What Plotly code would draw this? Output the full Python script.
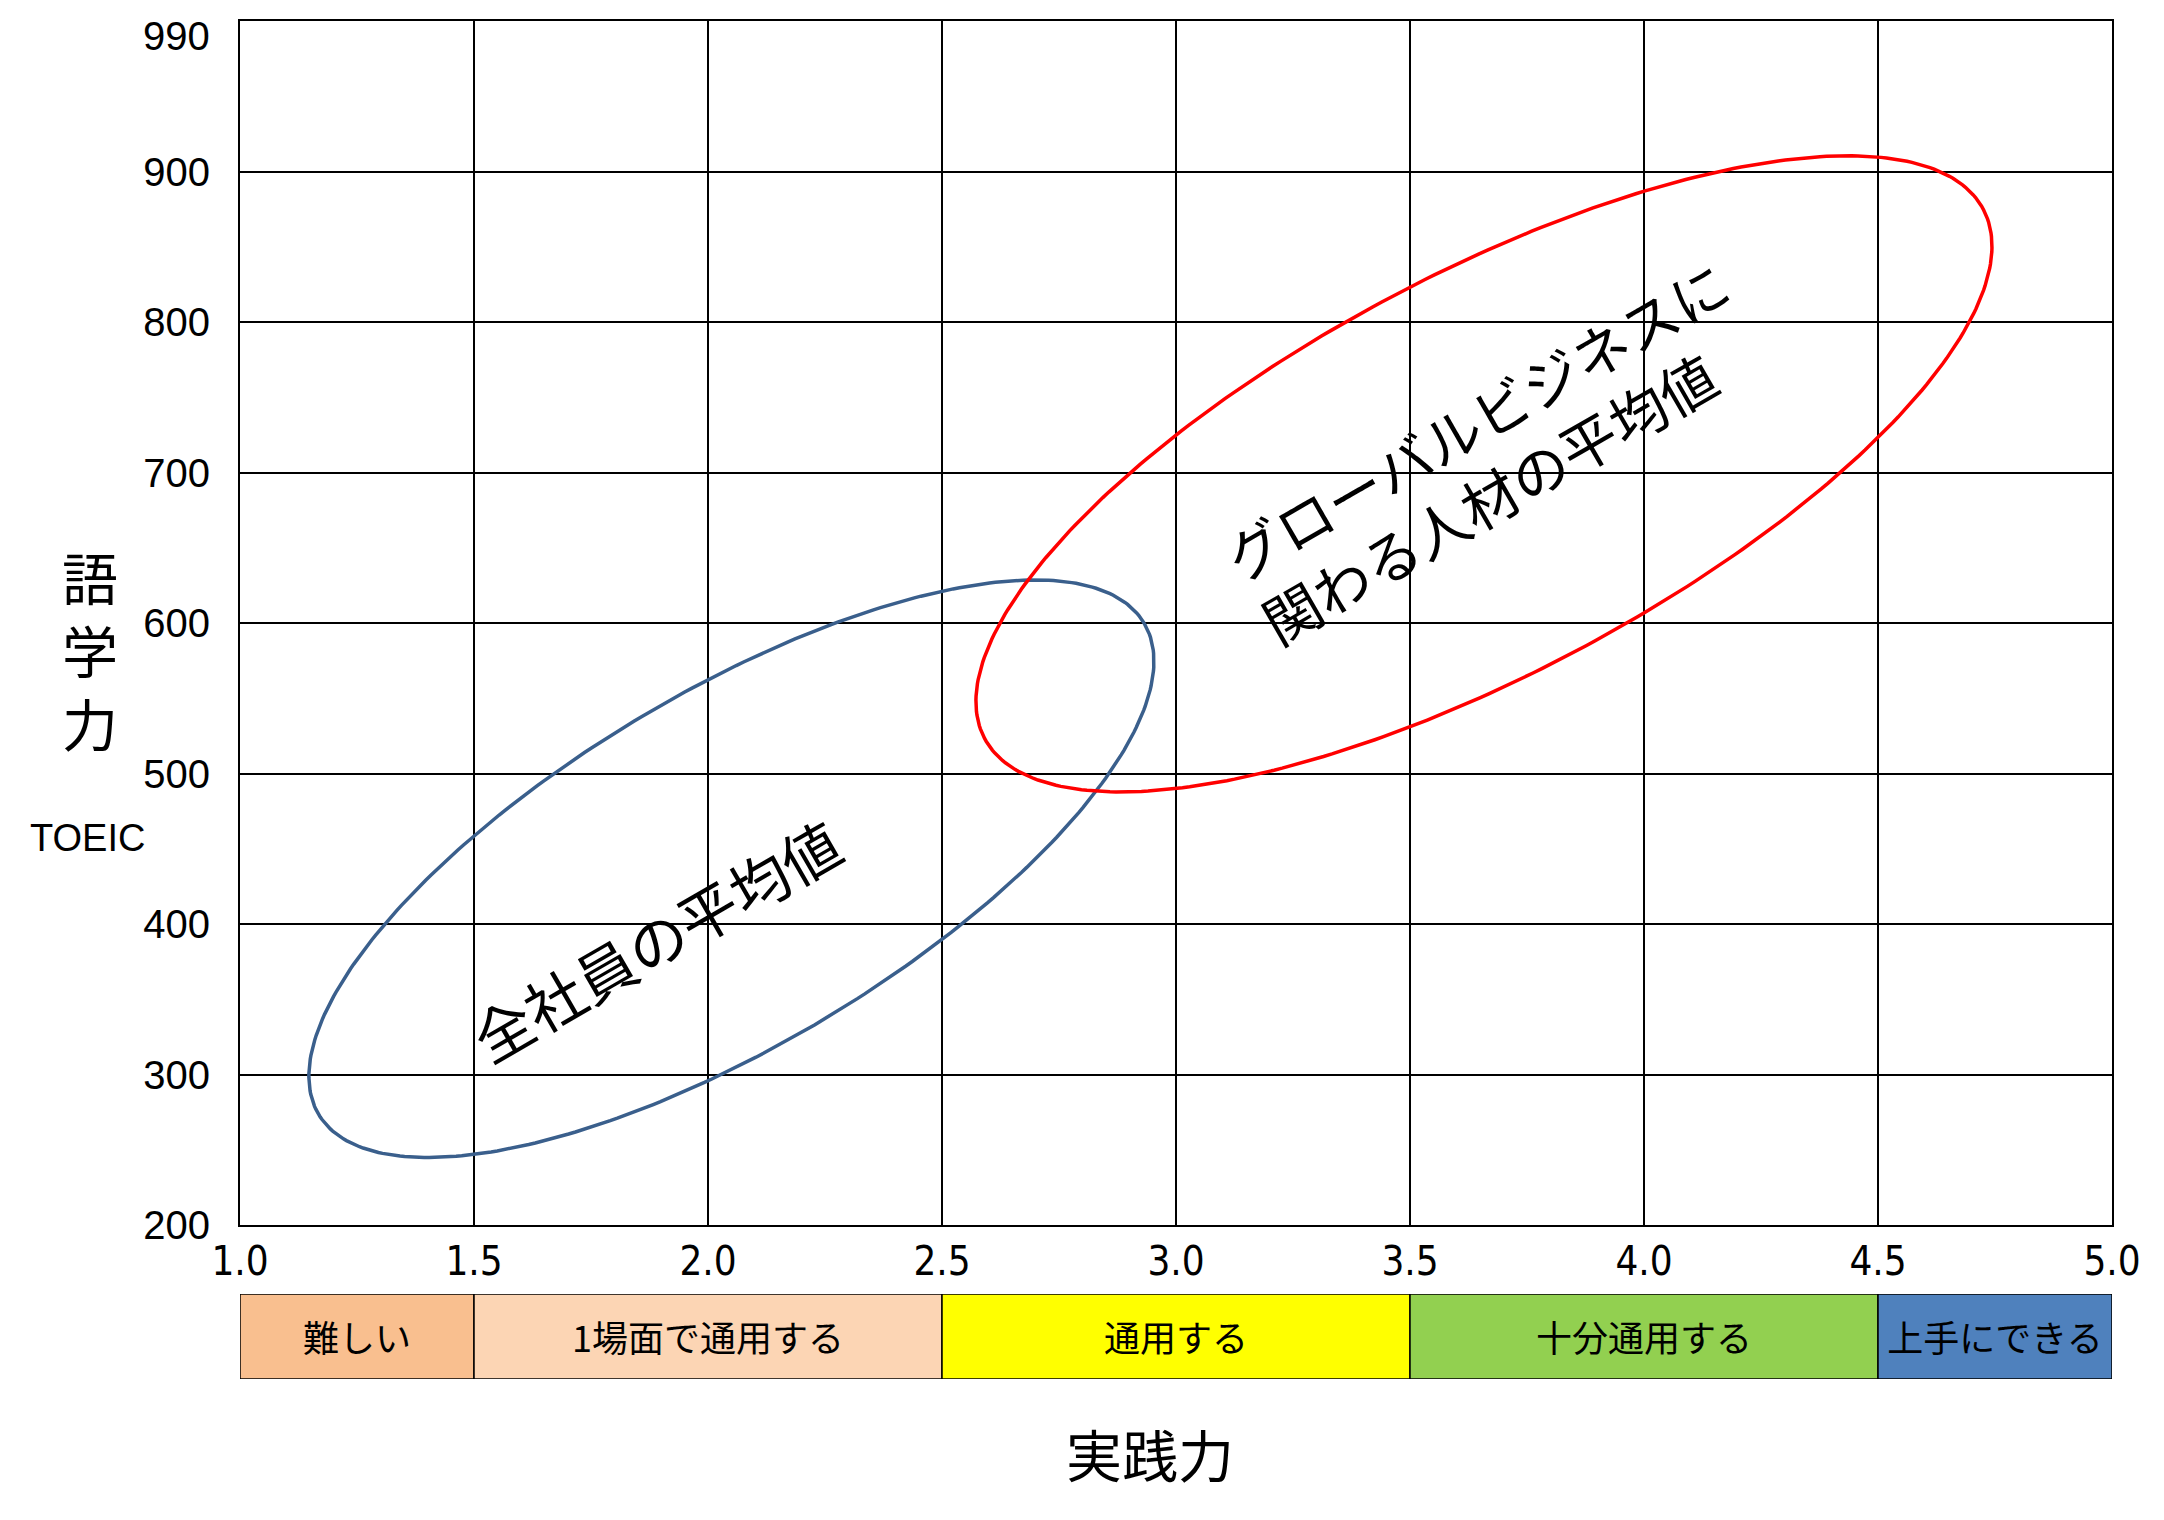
import numpy as np
import plotly.graph_objects as go

# ---------------- data ----------------
x_ticks = [1.0, 1.5, 2.0, 2.5, 3.0, 3.5, 4.0, 4.5, 5.0]
x_ticktext = ["1.0", "1.5", "2.0", "2.5", "3.0", "3.5", "4.0", "4.5", "5.0"]
y_ticks = [200, 300, 400, 500, 600, 700, 800, 900]
y_top_label = 990

band_labels = ["難しい", "1場面で通用する", "通用する", "十分通用する", "上手にできる"]
band_start = [1.0, 1.5, 2.5, 3.5, 4.5]
band_end = [1.5, 2.5, 3.5, 4.5, 5.0]
band_colors = ["#F9BF8F", "#FCD5B4", "#FFFF00", "#92D050", "#4F81BD"]

# ellipses: center (x, y) and half-axis vectors in data units
ell_names = ["全社員の平均値", "グローバルビジネスに<br>関わる人材の平均値"]
ell_cx = [2.05, 3.658]
ell_cy = [436.7, 699.1]
ell_major = [(0.882, 163.2), (1.067, 175.8)]
ell_minor = [(0.193, -100.9), (0.1997, -117.3)]
ell_colors = ["#3A5F8C", "#FF0000"]
label_x = [1.888, 3.68]
label_y = [390, 714]
label_angle = [-30, -30]
label_size = [59, 57]

# ---------------- figure ----------------
fig = go.Figure()

t = np.linspace(0, 2 * np.pi, 361)
for cx, cy, (ux, uy), (vx, vy), col in zip(ell_cx, ell_cy, ell_major, ell_minor, ell_colors):
    fig.add_trace(go.Scatter(
        x=cx + ux * np.cos(t) + vx * np.sin(t),
        y=cy + uy * np.cos(t) + vy * np.sin(t),
        mode="lines", line=dict(color=col, width=3.5),
        hoverinfo="skip", showlegend=False, xaxis="x", yaxis="y"))

fig.add_trace(go.Bar(
    orientation="h",
    base=band_start,
    x=[e - s for s, e in zip(band_start, band_end)],
    y=[0] * len(band_labels),
    width=1,
    marker=dict(color=band_colors, line=dict(color="black", width=1.5)),
    text=band_labels,
    textposition="inside",
    insidetextanchor="middle",
    textangle=0,
    constraintext="none",
    textfont=dict(family="Noto Sans CJK JP", size=36, color="black"),
    hoverinfo="skip", showlegend=False,
    xaxis="x2", yaxis="y2"))

annotations = []
for txt, lx, ly, ang, sz in zip(ell_names, label_x, label_y, label_angle, label_size):
    annotations.append(dict(
        x=lx, y=ly, xref="x", yref="y", text=txt, showarrow=False,
        textangle=ang, align="left", xanchor="center", yanchor="middle",
        font=dict(family="Noto Sans CJK JP", size=sz, color="black")))

annotations += [
    dict(x=0, y=y_top_label, xref="paper", yref="y", text=str(y_top_label),
         showarrow=False, xanchor="right", yanchor="middle", xshift=-28,
         font=dict(family="Liberation Sans, Arial", size=40, color="black")),
    dict(x=-0.0801, y=0.5376, xref="paper", yref="paper", text="語<br>学<br>力",
         showarrow=False, xanchor="center", yanchor="middle",
         font=dict(family="Noto Sans CJK JP", size=56, color="black")),
    dict(x=-0.0812, y=0.3984, xref="paper", yref="paper", text="TOEIC",
         showarrow=False, xanchor="center", yanchor="middle",
         font=dict(family="Liberation Sans, Arial", size=38, color="black")),
    dict(x=0.486, y=-0.0538, xref="paper", yref="paper", text="実践力",
         showarrow=False, xanchor="center", yanchor="middle",
         font=dict(family="Noto Sans CJK JP", size=56, color="black")),
]

fig.update_layout(
    width=2164, height=1520,
    margin=dict(l=240, r=52, t=21, b=141),
    paper_bgcolor="white", plot_bgcolor="white",
    barmode="overlay",
    showlegend=False,
    annotations=annotations,
    xaxis=dict(
        range=[1, 5], tickvals=x_ticks, ticktext=x_ticktext,
        showgrid=True, gridcolor="black", gridwidth=1.5,
        showline=True, linecolor="black", linewidth=2, mirror=True,
        zeroline=False, anchor="y", ticks="", ticklabelstandoff=0,
        tickfont=dict(family="Liberation Sans Narrow, DejaVu Sans Condensed, Liberation Sans",
                      size=40, color="black")),
    yaxis=dict(
        range=[200, 1000], tickvals=y_ticks, domain=[0.1134, 1],
        showgrid=True, gridcolor="black", gridwidth=1.5,
        showline=True, linecolor="black", linewidth=2, mirror=True,
        zeroline=False, anchor="x", ticks="", ticklabelstandoff=20,
        tickfont=dict(family="Liberation Sans, Arial", size=40, color="black")),
    xaxis2=dict(range=[1, 5], matches="x", anchor="y2", visible=False, showgrid=False),
    yaxis2=dict(range=[-0.5, 0.5], domain=[0, 0.0626], anchor="x2",
                visible=False, showgrid=False),
)

fig.write_html("out.html")
